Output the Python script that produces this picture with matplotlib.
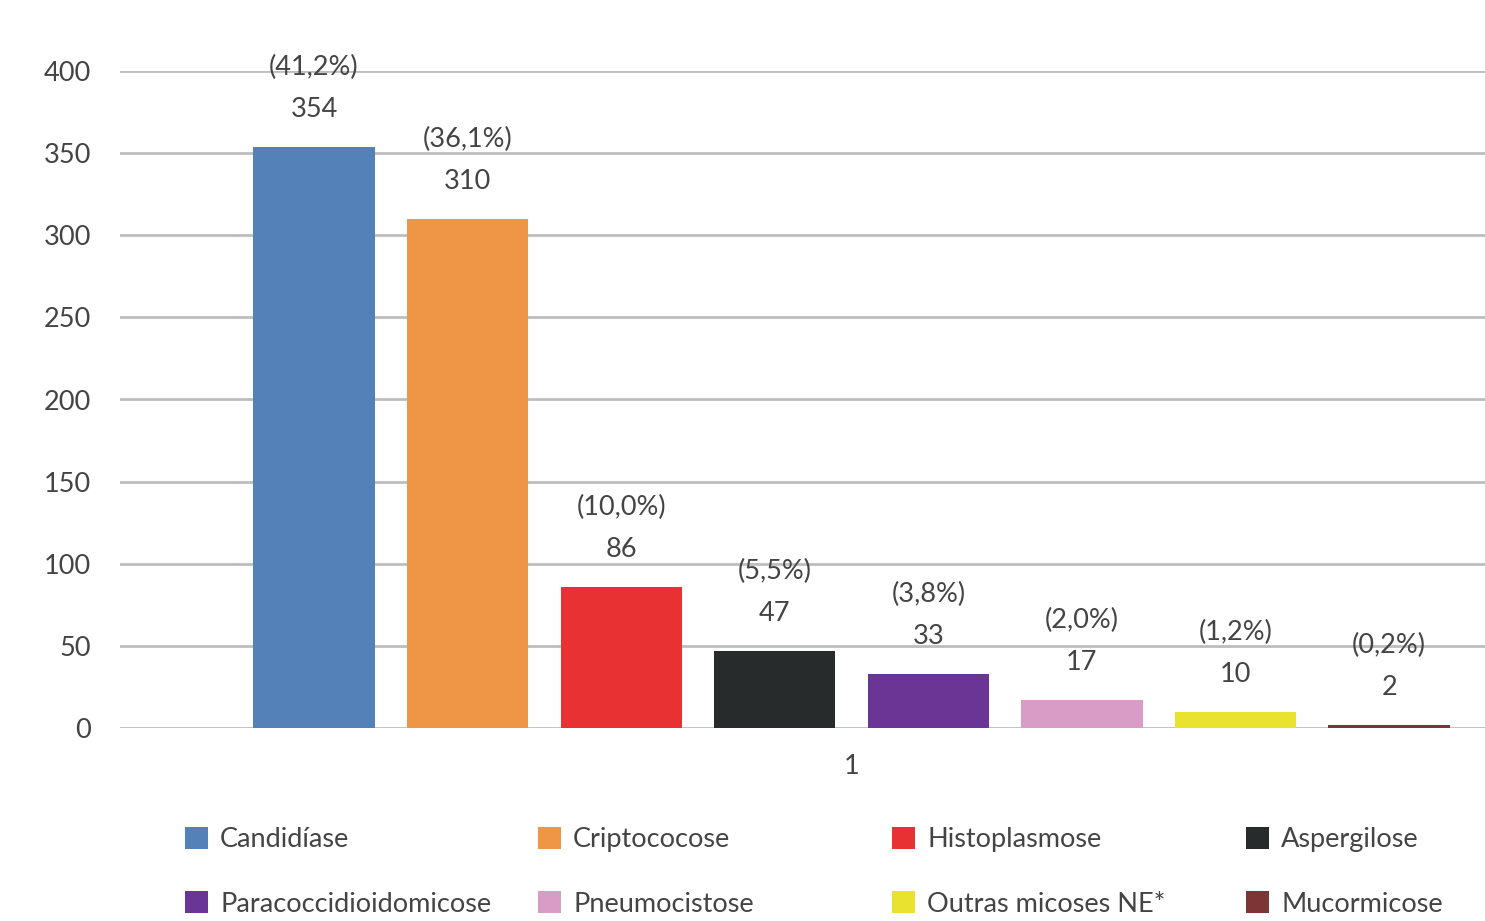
import matplotlib
matplotlib.use("Agg")
import matplotlib.pyplot as plt
from matplotlib.patches import Patch
import numpy as np

categories = ["Candidíase", "Criptococose", "Histoplasmose", "Aspergilose",
              "Paracoccidioidomicose", "Pneumocistose", "Outras micoses NE*", "Mucormicose"]
values = [354, 310, 86, 47, 33, 17, 10, 2]
percents = ["(41,2%)", "(36,1%)", "(10,0%)", "(5,5%)", "(3,8%)", "(2,0%)", "(1,2%)", "(0,2%)"]
colors = ["#5381B8", "#EE9646", "#E83132", "#272B2B", "#6B3595", "#D99CC7", "#E9E32F", "#7E3535"]
group_label = "1"

plt.rcParams["font.family"] = ["Lato", "DejaVu Sans"]
text_color = "#444444"
fs = 19.5

fig = plt.figure(figsize=(14.85, 9.21), dpi=100)
ax = fig.add_axes([120 / 1485, 193 / 921, 1 - 120 / 1485, 657 / 921])

x = np.arange(len(values)) - (len(values) - 1) / 2
bars = ax.bar(x, values, width=0.79, color=colors, zorder=3)

for xi, v, p in zip(x, values, percents):
    ax.annotate(str(v), (xi, v), xytext=(0, 27), textcoords="offset points",
                ha="center", va="center", fontsize=fs, color=text_color, zorder=4)
    ax.annotate(p, (xi, v), xytext=(0, 57), textcoords="offset points",
                ha="center", va="center", fontsize=fs, color=text_color, zorder=4)

ax.set_ylim(0, 400)
ax.set_yticks(np.arange(0, 401, 50))
ax.set_xlim(-4.763, 4.124)
ax.set_xticks([0])
ax.set_xticklabels([group_label])
ax.yaxis.grid(True, color="#BDBDBD", linewidth=2, zorder=0)
ax.set_axisbelow(True)
for s in ax.spines.values():
    s.set_visible(False)
ax.tick_params(axis="both", length=0, labelsize=fs, colors=text_color)
ax.tick_params(axis="y", pad=21)
ax.tick_params(axis="x", pad=19)

# legend laid out as 4 equal-width columns, 2 rows
handles = [Patch(facecolor=c, edgecolor="none") for c in colors]
col_x = [185, 538, 892, 1246]
for j in range(4):
    idx = [j, j + 4]
    fig.legend([handles[i] for i in idx], [categories[i] for i in idx],
               loc="upper left", bbox_to_anchor=(col_x[j] / 1485, 1 - 827 / 921),
               frameon=False, fontsize=fs, labelcolor=text_color,
               handlelength=0.85, handleheight=0.85, handletextpad=0.45,
               labelspacing=1.45, borderaxespad=0, borderpad=0)

fig.savefig("out.png", dpi=100)
